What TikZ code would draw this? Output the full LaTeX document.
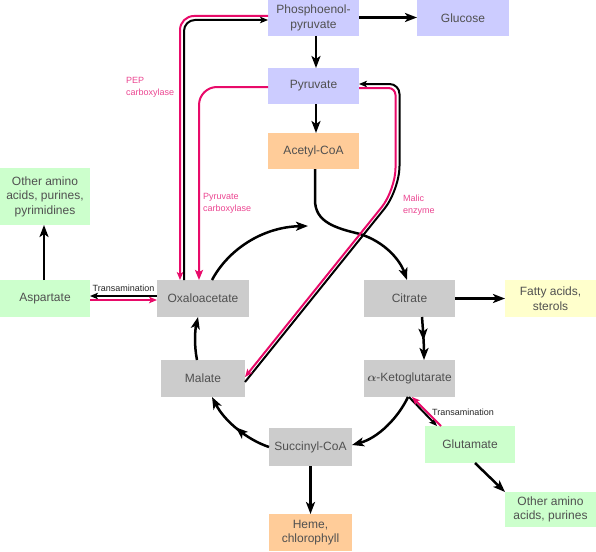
\documentclass[tikz,border=0pt]{standalone}
\usepackage{fontspec}
\setmainfont{Liberation Sans}
\usetikzlibrary{arrows.meta,decorations.markings}
\definecolor{lav}{RGB}{204,204,255}
\definecolor{orng}{RGB}{255,204,153}
\definecolor{grn}{RGB}{204,255,204}
\definecolor{yel}{RGB}{255,255,204}
\definecolor{gry}{RGB}{204,204,204}
\definecolor{txtg}{RGB}{80,80,80}
\definecolor{pinkc}{RGB}{232,10,105}
\definecolor{pinkt}{RGB}{235,70,145}
\begin{document}
\begin{tikzpicture}[x=1pt,y=-1pt,
  box/.style={rectangle, inner sep=0pt, outer sep=0pt, align=center, text=txtg,
              font=\fontsize{12}{14.5}\selectfont},
  lbl/.style={inner sep=0pt, outer sep=0pt, align=left, text=pinkt,
              font=\fontsize{9}{12}\selectfont},
  tlbl/.style={inner sep=0pt, outer sep=0pt, text=black!85,
              font=\fontsize{9}{11}\selectfont},
  flow/.style={line width=2.5pt, -{Stealth[length=12pt,width=9pt,inset=3pt]}},
  cyc/.style={line width=2.5pt, -{Stealth[length=12pt,width=9pt,inset=3pt]}},
  midarr/.style={postaction={decorate}, decoration={markings,
      mark=at position #1 with {\arrow{Stealth[length=12pt,width=9pt,inset=3pt]}}}},
  blk/.style={line width=2pt, -{Stealth[length=8pt,width=6.5pt,inset=2pt]}},
  pnk/.style={draw=pinkc, line width=2pt, -{Stealth[length=8pt,width=6.5pt,inset=2pt]}},
  pnkbig/.style={draw=pinkc, line width=2pt, -{Stealth[length=10pt,width=8pt,inset=2pt]}}
]
\useasboundingbox (0,0) rectangle (596,551);

% nodes
\node[box, fill=lav, minimum width=91pt, minimum height=36pt] (pep) at (313.5,18) {Phosphoenol-\\pyruvate};
\node[box, fill=lav, minimum width=92pt, minimum height=36pt] (glucose) at (463,18) {Glucose};
\node[box, fill=lav, minimum width=91pt, minimum height=36pt] (pyruvate) at (313.5,86) {Pyruvate};
\node[box, fill=orng, minimum width=91pt, minimum height=36pt] (acetyl) at (313.5,151) {Acetyl-CoA};
\node[box, fill=gry, minimum width=92pt, minimum height=37pt] (oaa) at (203,298.5) {Oxaloacetate};
\node[box, fill=grn, minimum width=90pt, minimum height=37pt] (asp) at (45,298.5) {Aspartate};
\node[box, fill=grn, minimum width=90pt, minimum height=57pt] (other1) at (45,196.5) {Other amino\\acids, purines,\\pyrimidines};
\node[box, fill=gry, minimum width=84pt, minimum height=37pt] (malate) at (203,378.5) {Malate};
\node[box, fill=gry, minimum width=91pt, minimum height=37pt] (citrate) at (409.5,298.5) {Citrate};
\node[box, fill=yel, minimum width=91pt, minimum height=37pt] (fatty) at (550.5,298.5) {Fatty acids,\\sterols};
\node[box, fill=gry, minimum width=91pt, minimum height=37pt] (akg) at (409.5,378.5) {{\boldmath$\alpha$}-Ketoglutarate};
\node[box, fill=gry, minimum width=83pt, minimum height=38pt] (succ) at (310.5,447) {Succinyl-CoA};
\node[box, fill=orng, minimum width=83pt, minimum height=37pt] (heme) at (310.5,532.5) {Heme,\\chlorophyll};
\node[box, fill=grn, minimum width=90pt, minimum height=37pt] (glut) at (470,444.5) {Glutamate};
\node[box, fill=grn, minimum width=91pt, minimum height=35pt] (other2) at (550.5,509.5) {Other amino\\acids, purines};

% labels
\node[lbl, anchor=west] (pepc) at (126,87) {PEP\\carboxylase};
\node[lbl, anchor=west] (pyrc) at (203,203) {Pyruvate\\carboxylase};
\node[lbl, anchor=west] (malic) at (403,205) {Malic\\enzyme};
\node[tlbl] (trans1) at (123.5,288) {Transamination};
\node[tlbl] (trans2) at (463,412) {Transamination};

% straight main arrows
\draw[flow] (pep.east |- 0,17.5) -- (glucose.west |- 0,17.5);
\draw[flow] (pep.south -| 316,0) -- (pyruvate.north -| 316,0);
\draw[flow] (pyruvate.south -| 316,0) -- (acetyl.north -| 316,0);
\draw[flow] (citrate.east) -- (fatty.west);
\draw[flow] (asp.north -| 44,0) -- (other1.south -| 44,0);
\draw[flow] (succ.south -| 310.5,0) -- (heme.north -| 310.5,0);
\draw[flow] (glut.south -| 475,0) -- (other2.north west);

% cycle
\coordinate (ctop) at (308,226);
\draw[cyc] (oaa.north -| 212,0) .. controls (228,250) and (262,227) .. (ctop);
\draw[flow] (acetyl.south -| 315,0) -- (315,200) .. controls (315,222) and (335,228) .. (360,234)
   .. controls (385,242) and (400,260) .. (citrate.north -| 407,0);
\draw[cyc, midarr=0.55] (citrate.south -| 422,0) .. controls (423,330) and (424,345) .. (akg.north -| 424,0);
\draw[cyc, midarr=0.5] (succ.west |- 0,447) .. controls (248,440) and (225,422) .. (malate.south -| 212,0);
\draw[cyc] (akg.south -| 408,0) .. controls (398,418) and (378,438) .. (succ.east |- 0,445);
\draw[cyc] (malate.north -| 197,0) .. controls (194,345) and (195,330) .. (oaa.south -| 198,0);

% PEP carboxylase / carboxykinase
\draw[pnk, rounded corners=14pt] (pep.west |- 0,16) -- (180,16) -- (oaa.north -| 180,0);
\draw[blk, rounded corners=11pt] (oaa.north -| 184,0) -- (184,20) -- (pep.west |- 0,20);

% Pyruvate carboxylase
\draw[pnkbig, rounded corners=18pt] (pyruvate.west |- 0,87) -- (199,87) -- (oaa.north -| 199,0);

% Malic enzyme
\draw[blk] (malate.east |- 0,382) [rounded corners=24pt] -- (399.5,190) [rounded corners=10pt] -- (399.5,84) -- (pyruvate.east |- 0,84);
\draw[pnk] (pyruvate.east |- 0,88) [rounded corners=7pt] -- (395.5,88) [rounded corners=22pt] -- (395.5,190) -- (malate.east |- 0,377);

% Transaminations
\draw[blk] (oaa.west |- 0,296) -- (asp.east |- 0,296);
\draw[pnk] (asp.east |- 0,300) -- (oaa.west |- 0,300);
\draw[blk] (akg.south -| 409,0) -- (glut.north -| 437,0);
\draw[pnk] (glut.north -| 441,0) -- (akg.south -| 412,0);
\end{tikzpicture}
\end{document}
